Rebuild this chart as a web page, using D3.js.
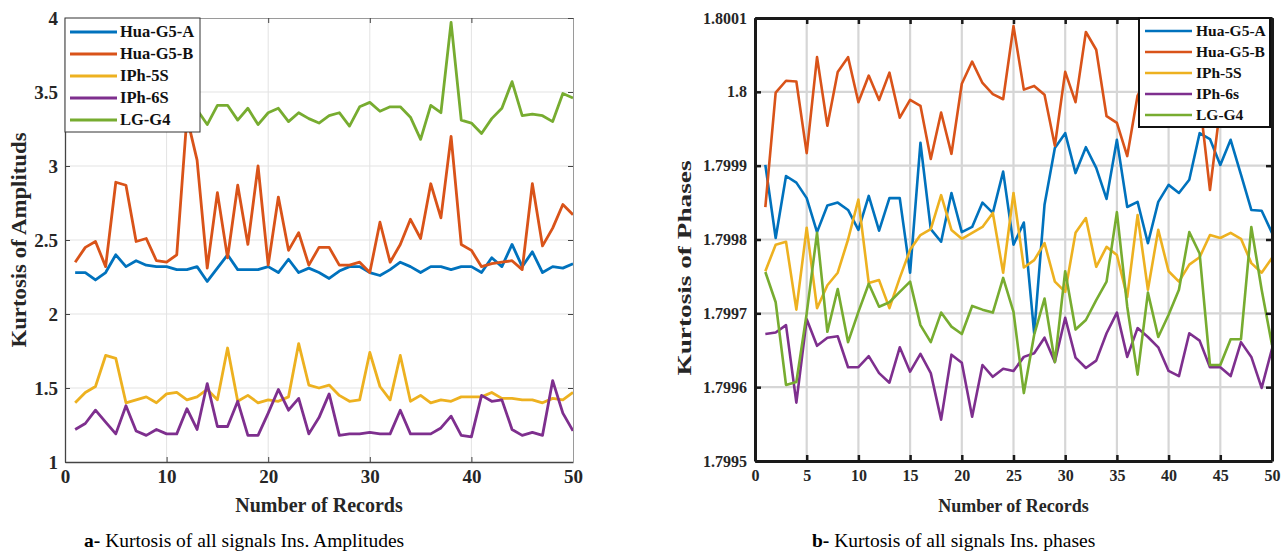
<!DOCTYPE html>
<html>
<head>
<meta charset="utf-8">
<style>
  body { margin: 0; background: #fff; }
  svg text { font-family: "Liberation Serif", "Times New Roman", serif; }
  .tick text { font-weight: bold; fill: #262626; }
</style>
<script src="https://d3js.org/d3.v7.min.js"></script>
</head>
<body>
<script>
// record numbers on the x axis
const records = d3.range(1, 51);
const seriesNames = ['Hua-G5-A', 'Hua-G5-B', 'IPh-5S', 'IPh-6S', 'LG-G4'];
const seriesNamesB = ['Hua-G5-A', 'Hua-G5-B', 'IPh-5S', 'IPh-6s', 'LG-G4'];
const colors = ['#0072BD', '#D95319', '#EDB120', '#7E2F8E', '#77AC30'];

// (a) kurtosis of instantaneous amplitudes
const ampHuaA = [2.28,2.28,2.23,2.28,2.40,2.32,2.36,2.33,2.32,2.32,2.30,2.30,2.32,2.22,2.31,2.40,2.30,2.30,2.30,2.32,
  2.28,2.37,2.28,2.31,2.28,2.24,2.29,2.32,2.32,2.28,2.26,2.30,2.35,2.32,2.28,2.32,2.32,2.30,2.32,2.32,
  2.28,2.38,2.32,2.47,2.32,2.42,2.28,2.32,2.31,2.34];
const ampHuaB = [2.35,2.45,2.49,2.32,2.89,2.87,2.49,2.51,2.36,2.35,2.40,3.33,3.04,2.31,2.82,2.38,2.87,2.47,3.00,2.33,
  2.79,2.43,2.55,2.33,2.45,2.45,2.33,2.33,2.35,2.28,2.62,2.35,2.47,2.64,2.51,2.88,2.65,3.20,2.47,2.43,
  2.32,2.34,2.35,2.36,2.30,2.88,2.46,2.58,2.74,2.67];
const ampIPh5 = [1.40,1.47,1.51,1.72,1.70,1.40,1.42,1.44,1.40,1.46,1.47,1.42,1.44,1.49,1.42,1.77,1.41,1.45,1.40,1.42,
  1.41,1.44,1.80,1.52,1.50,1.52,1.45,1.41,1.42,1.74,1.51,1.42,1.72,1.41,1.45,1.40,1.42,1.41,1.44,1.44,
  1.44,1.47,1.43,1.43,1.42,1.42,1.40,1.43,1.42,1.47];
const ampIPh6 = [1.22,1.26,1.35,1.27,1.19,1.38,1.21,1.18,1.22,1.19,1.19,1.36,1.22,1.53,1.24,1.24,1.41,1.18,1.18,1.33,
  1.49,1.35,1.43,1.19,1.30,1.46,1.18,1.19,1.19,1.20,1.19,1.19,1.35,1.19,1.19,1.19,1.23,1.31,1.18,1.17,
  1.45,1.41,1.42,1.22,1.18,1.20,1.18,1.55,1.33,1.21];
const ampLG = [3.40,3.36,3.42,3.38,3.35,3.41,3.37,3.39,3.36,3.40,3.38,3.36,3.38,3.28,3.41,3.41,3.31,3.39,3.28,3.36,
  3.39,3.30,3.36,3.32,3.29,3.34,3.36,3.27,3.40,3.43,3.37,3.40,3.40,3.33,3.18,3.41,3.36,3.97,3.31,3.29,
  3.22,3.32,3.39,3.57,3.34,3.35,3.34,3.30,3.49,3.46];

// (b) kurtosis of instantaneous phases
const phHuaA = [1.799901,1.799802,1.799886,1.799877,1.799856,1.799810,1.799846,1.799850,1.799840,1.799813,
  1.799859,1.799812,1.799856,1.799856,1.799755,1.799931,1.799814,1.799797,1.799863,1.799810,
  1.799817,1.799850,1.799836,1.799892,1.799793,1.799823,1.799673,1.799847,1.799924,1.799944,
  1.799890,1.799925,1.799897,1.799855,1.799935,1.799844,1.799851,1.799795,1.799851,1.799874,
  1.799863,1.799881,1.799944,1.799936,1.799901,1.799935,1.799888,1.799840,1.799839,1.799809];
const phHuaB = [1.799844,1.799999,1.800015,1.800014,1.799917,1.800047,1.799954,1.800027,1.800047,1.799986,
  1.800022,1.799989,1.800026,1.799965,1.799989,1.799981,1.799909,1.799972,1.799916,1.800011,
  1.800041,1.800012,1.799997,1.799990,1.800089,1.800003,1.800008,1.799996,1.799927,1.800027,
  1.799986,1.800081,1.800057,1.799967,1.799958,1.799913,1.799995,1.800020,1.800000,1.800030,
  1.800010,1.800020,1.799990,1.799867,1.799980,1.800010,1.800000,1.800020,1.799990,1.800000];
const phIPh5 = [1.799757,1.799793,1.799797,1.799705,1.799816,1.799707,1.799738,1.799755,1.799800,1.799854,
  1.799741,1.799745,1.799707,1.799748,1.799786,1.799806,1.799814,1.799860,1.799813,1.799801,
  1.799809,1.799817,1.799836,1.799755,1.799863,1.799762,1.799772,1.799795,1.799743,1.799729,
  1.799809,1.799829,1.799763,1.799790,1.799779,1.799722,1.799833,1.799732,1.799813,1.799757,
  1.799743,1.799766,1.799776,1.799806,1.799802,1.799809,1.799801,1.799768,1.799755,1.799775];
const phIPh6 = [1.799672,1.799674,1.799684,1.799579,1.799692,1.799656,1.799667,1.799669,1.799627,1.799627,
  1.799642,1.799619,1.799606,1.799654,1.799621,1.799645,1.799619,1.799556,1.799644,1.799633,
  1.799560,1.799630,1.799614,1.799625,1.799622,1.799641,1.799646,1.799667,1.799634,1.799694,
  1.799640,1.799626,1.799636,1.799673,1.799701,1.799641,1.799680,1.799668,1.799654,1.799622,
  1.799615,1.799673,1.799663,1.799627,1.799627,1.799615,1.799661,1.799641,1.799599,1.799652];
const phLG = [1.799756,1.799715,1.799603,1.799607,1.799700,1.799809,1.799675,1.799733,1.799661,1.799702,
  1.799740,1.799709,1.799715,1.799729,1.799743,1.799684,1.799661,1.799701,1.799682,1.799672,
  1.799710,1.799705,1.799701,1.799748,1.799702,1.799592,1.799671,1.799720,1.799634,1.799757,
  1.799678,1.799691,1.799718,1.799743,1.799837,1.799709,1.799617,1.799728,1.799668,1.799698,
  1.799732,1.799810,1.799781,1.799630,1.799630,1.799665,1.799665,1.799817,1.799732,1.799657];

const xTicksA = [0, 10, 20, 30, 40, 50];
const yTicksA = [1, 1.5, 2, 2.5, 3, 3.5, 4];
const yLabelsA = ['1', '1.5', '2', '2.5', '3', '3.5', '4'];
const xTicksB = [0, 5, 10, 15, 20, 25, 30, 35, 40, 45, 50];
const yTicksB = [1.7995, 1.7996, 1.7997, 1.7998, 1.7999, 1.8, 1.8001];
const yLabelsB = ['1.7995', '1.7996', '1.7997', '1.7998', '1.7999', '1.8', '1.8001'];

const width = 1286, height = 553;
const svg = d3.select('body').append('svg')
    .attr('width', width)
    .attr('height', height);

function drawChart(o) {
    const g = svg.append('g');
    const x = d3.scaleLinear().domain([0, 50]).range(o.xr);
    const y = d3.scaleLinear().domain([o.yTicks[0], o.yTicks[o.yTicks.length - 1]]).range(o.yr);

    // grid
    g.selectAll('line.vg').data(o.xTicks.slice(1, -1)).join('line')
        .attr('x1', d => x(d)).attr('x2', d => x(d))
        .attr('y1', o.yr[0]).attr('y2', o.yr[1])
        .attr('stroke', o.gridColor).attr('stroke-width', o.gridWidth);
    g.selectAll('line.hg').data(o.yTicks.slice(1, -1)).join('line')
        .attr('x1', o.xr[0]).attr('x2', o.xr[1])
        .attr('y1', d => y(d)).attr('y2', d => y(d))
        .attr('stroke', o.gridColor).attr('stroke-width', o.gridWidth);

    // lines
    const line = d3.line().x((d, i) => x(records[i])).y(d => y(d));
    o.series.forEach((s, k) => {
        g.append('path')
            .attr('d', line(s))
            .attr('fill', 'none')
            .attr('stroke', colors[k])
            .attr('stroke-width', o.lineWidth)
            .attr('stroke-linejoin', 'round');
    });

    // axes
    const xAxis = g.append('g')
        .attr('transform', `translate(0,${o.yr[0]})`)
        .call(d3.axisBottom(x).tickValues(o.xTicks).tickFormat(d3.format('d'))
            .tickSizeInner(-o.tick).tickSizeOuter(0).tickPadding(o.xPad));
    const yAxis = g.append('g')
        .attr('transform', `translate(${o.xr[0]},0)`)
        .call(d3.axisLeft(y).tickValues(o.yTicks).tickFormat((d, i) => o.yLabels[i])
            .tickSizeInner(-o.tick).tickSizeOuter(0).tickPadding(o.yPad));
    const xTop = g.append('g')
        .attr('transform', `translate(0,${o.yr[1]})`)
        .call(d3.axisTop(x).tickValues(o.xTicks).tickFormat('')
            .tickSizeInner(-o.tick).tickSizeOuter(0));
    const yRight = g.append('g')
        .attr('transform', `translate(${o.xr[1]},0)`)
        .call(d3.axisRight(y).tickValues(o.yTicks).tickFormat('')
            .tickSizeInner(-o.tick).tickSizeOuter(0));

    [xTop, yRight].forEach(a => {
        a.select('.domain').attr('stroke', o.boxColor).attr('stroke-width', o.boxWidth);
        a.selectAll('.tick line').attr('stroke', o.axisColor).attr('stroke-width', o.tickWidth);
    });
    [xAxis, yAxis].forEach(a => {
        a.select('.domain').attr('stroke', o.axisColor).attr('stroke-width', o.axisWidth);
        a.selectAll('.tick line').attr('stroke', o.axisColor).attr('stroke-width', o.tickWidth);
        a.selectAll('.tick text').style('font-size', o.tickFont + 'px');
    });

    // axis titles
    g.append('text')
        .attr('x', (o.xr[0] + o.xr[1]) / 2)
        .attr('y', o.xTitleY)
        .attr('text-anchor', 'middle')
        .style('font-size', o.titleFont + 'px')
        .style('font-weight', 'bold')
        .attr('fill', '#262626')
        .text('Number of Records');
    g.append('text')
        .attr('transform', `translate(${o.yTitleX},${o.yTitleY}) rotate(-90)`)
        .attr('text-anchor', 'middle')
        .attr('textLength', o.yTitleLen)
        .attr('lengthAdjust', 'spacingAndGlyphs')
        .style('font-size', o.titleFont + 'px')
        .style('font-weight', 'bold')
        .attr('fill', '#262626')
        .text(o.yTitle);

    // legend
    const lg = g.append('g');
    lg.append('rect')
        .attr('x', o.legend.x).attr('y', o.legend.y)
        .attr('width', o.legend.w).attr('height', o.legend.h)
        .attr('fill', '#fff')
        .attr('stroke', o.legend.stroke).attr('stroke-width', o.legend.sw);
    o.names.forEach((n, k) => {
        const cy = o.legend.y + o.legend.first + k * o.legend.step;
        lg.append('line')
            .attr('x1', o.legend.x + o.legend.l0).attr('x2', o.legend.x + o.legend.l1)
            .attr('y1', cy).attr('y2', cy)
            .attr('stroke', colors[k]).attr('stroke-width', o.lineWidth);
        lg.append('text')
            .attr('x', o.legend.x + o.legend.tx)
            .attr('y', cy)
            .attr('dy', '0.33em')
            .style('font-size', o.legend.font + 'px')
            .style('font-weight', 'bold')
            .attr('fill', '#111')
            .text(n);
    });

    // caption
    const cap = g.append('text')
        .attr('x', o.capX).attr('y', 547)
        .style('font-size', '19.5px')
        .attr('fill', '#000');
    cap.append('tspan').style('font-weight', 'bold').text(o.capTag);
    cap.append('tspan').text(o.capText);
}

drawChart({
    xr: [65, 573], yr: [462, 18],
    xTicks: xTicksA, yTicks: yTicksA, yLabels: yLabelsA,
    series: [ampHuaA, ampHuaB, ampIPh5, ampIPh6, ampLG],
    names: seriesNames,
    gridColor: '#e3e3e3', gridWidth: 1,
    boxColor: '#9a9a9a', boxWidth: 1,
    axisColor: '#444', axisWidth: 1.3, tickWidth: 1, tick: 5,
    lineWidth: 2.8, tickFont: 19, xPad: 8, yPad: 7,
    titleFont: 20, xTitleY: 512,
    yTitle: 'Kurtosis of Amplituds', yTitleX: 26, yTitleY: 240, yTitleLen: 215,
    legend: { x: 65, y: 18, w: 135, h: 114, stroke: '#333', sw: 1, first: 14, step: 22,
              l0: 5, l1: 52, tx: 55, font: 16.5 },
    capX: 84, capTag: 'a-', capText: ' Kurtosis of all signals Ins. Amplitudes'
});

drawChart({
    xr: [755, 1272], yr: [461, 18],
    xTicks: xTicksB, yTicks: yTicksB, yLabels: yLabelsB,
    series: [phHuaA, phHuaB, phIPh5, phIPh6, phLG],
    names: seriesNamesB,
    gridColor: '#d6d6d6', gridWidth: 2.2,
    boxColor: '#1a1a1a', boxWidth: 3,
    axisColor: '#1a1a1a', axisWidth: 3, tickWidth: 2.5, tick: 6,
    lineWidth: 2.6, tickFont: 16, xPad: 9, yPad: 8,
    titleFont: 18, xTitleY: 512,
    yTitle: 'Kurtosis of Phases', yTitleX: 691, yTitleY: 268, yTitleLen: 215,
    legend: { x: 1139, y: 18, w: 131, h: 109, stroke: '#111', sw: 2, first: 13, step: 21,
              l0: 6, l1: 53, tx: 57, font: 15.5 },
    capX: 812, capTag: 'b-', capText: ' Kurtosis of all signals Ins. phases'
});
</script>
</body>
</html>
